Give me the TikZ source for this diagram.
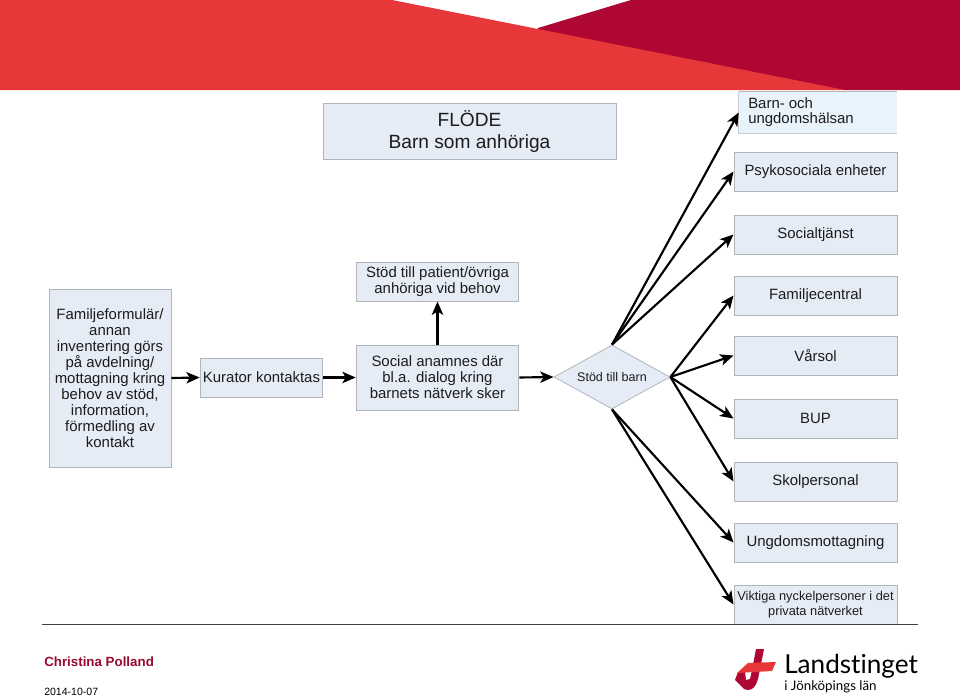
\documentclass[tikz,border=0pt]{standalone}
\usepackage{fontspec}
\setmainfont{Liberation Sans}
\newfontfamily\logofont[Ligatures=CommonOff]{Lato}
\usetikzlibrary{arrows.meta,shapes.geometric}
\definecolor{boxfill}{HTML}{E6ECF6}
\definecolor{boxline}{HTML}{B0B5BC}
\definecolor{lightfill}{HTML}{E9F3FC}
\definecolor{headred}{HTML}{E73739}
\definecolor{headdark}{HTML}{AE0733}
\definecolor{namered}{HTML}{960A2E}
\definecolor{boxtext}{HTML}{1C1C1C}
\tikzset{
  flowbox/.style={draw=boxline, fill=boxfill, text=boxtext, line width=0.7pt, inner sep=0pt, align=center, font=\fontsize{11.2}{12}\selectfont},
  flowarrow/.style={-{Stealth[length=10pt,width=8.5pt,inset=2.5pt]}, line width=1.6pt, black}
}
\begin{document}
\begin{tikzpicture}[x=0.75pt, y=-0.75pt]
\useasboundingbox (0,0) rectangle (960,696);
% header
\fill[headdark] (538,28) -- (631,0) -- (960,0) -- (960,90) -- (845,90) -- (830,89) -- (530,40) -- cycle;
\fill[headred] (0,0) -- (392,0) -- (845,90) -- (0,90) -- cycle;
% title
\node[flowbox, minimum width=219.75pt, minimum height=42pt, font=\fontsize{14.35}{16.5}\selectfont] (title) at (469.5,131) {FLÖDE\\Barn som anhöriga};
% left side
\node[flowbox, minimum width=91.5pt, minimum height=133.5pt] (form) at (110,378) {Familjeformulär/\\annan\\inventering görs\\på avdelning/\\mottagning kring\\behov av stöd,\\information,\\förmedling av\\kontakt};
\node[flowbox, minimum width=92pt, minimum height=29.25pt] (kurator) at (261.5,377.5) {Kurator kontaktas};
\node[flowbox, minimum width=122pt, minimum height=29.25pt] (patient) at (437.5,281.5) {Stöd till patient/övriga\\anhöriga vid behov};
\node[flowbox, minimum width=122pt, minimum height=48.75pt] (anamnes) at (437.5,377.5) {Social anamnes där\\bl.a. dialog kring\\barnets nätverk sker};
\node[diamond, shape aspect=1.8, draw=boxline, fill=boxfill, text=boxtext, line width=0.6pt, inner sep=0pt, minimum width=87pt, minimum height=48pt, font=\fontsize{9.4}{10}\selectfont] (barn) at (612,377) {Stöd till barn};
% right side
\node[fill=lightfill, minimum width=118.5pt, minimum height=30.75pt, inner sep=0pt] (bus) at (818,112.5) {};
\draw[boxline!70, line width=0.7pt] (bus.south east) -- (bus.south west) -- (bus.north west);
\draw[boxline, line width=0.8pt] (bus.north west) -- (bus.north east);
\node[anchor=west, align=left, inner sep=0pt, text=boxtext, font=\fontsize{11.2}{11.5}\selectfont] (bustext) at (748,112) {Barn- och\\ungdomshälsan};
\node[flowbox, minimum width=122.25pt, minimum height=29.25pt] (psyk) at (815.5,171.5) {Psykosociala enheter};
\node[flowbox, minimum width=122.25pt, minimum height=29.25pt] (soc) at (815.5,234.5) {Socialtjänst};
\node[flowbox, minimum width=122.25pt, minimum height=29.25pt] (fam) at (815.5,295.5) {Familjecentral};
\node[flowbox, minimum width=122.25pt, minimum height=29.25pt] (var) at (815.5,355.5) {Vårsol};
\node[flowbox, minimum width=122.25pt, minimum height=29.25pt] (bup) at (815.5,418.5) {BUP};
\node[flowbox, minimum width=122.25pt, minimum height=29.25pt] (skol) at (815.5,481.5) {Skolpersonal};
\node[flowbox, minimum width=122.25pt, minimum height=29.25pt] (ung) at (815.5,542.5) {Ungdomsmottagning};
\node[flowbox, minimum width=122.25pt, minimum height=29.25pt, font=\fontsize{9.6}{11.5}\selectfont] (vik) at (815.5,604.5) {Viktiga nyckelpersoner i det\\privata nätverket};
% arrows
\draw[flowarrow] (form.east) -- (kurator.west);
\draw[flowarrow] (kurator.east) -- (anamnes.west);
\draw[flowarrow] (anamnes.north) -- (patient.south);
\draw[flowarrow] (anamnes.east) -- (barn.west);
\draw[flowarrow] (barn.north) -- (bus.west);
\draw[flowarrow] (barn.north) -- (psyk.west);
\draw[flowarrow] (barn.north) -- (soc.west);
\draw[flowarrow] (barn.east) -- (fam.west);
\draw[flowarrow] (barn.east) -- (var.west);
\draw[flowarrow] (barn.east) -- (bup.west);
\draw[flowarrow] (barn.east) -- (skol.west);
\draw[flowarrow] (barn.south) -- (ung.west);
\draw[flowarrow] (barn.south) -- (vik.west);
% footer
\draw[black!75, line width=0.7pt] (42,624.5) -- (918,624.5);
\node[anchor=base west, inner sep=0pt, text=namered, font=\fontsize{10}{12}\selectfont\bfseries] (name) at (44,666) {Christina Polland};
\node[anchor=base west, inner sep=0pt, font=\fontsize{7.9}{9}\selectfont] (date) at (44,695) {2014-10-07};
% logo
\fill[headdark] (756,649) -- (764,649) -- (758,679) .. controls (756,686) and (753,690) .. (748,690) -- (744,689) -- (735,680) -- (738,672) -- (745,672) -- (746,680) -- (750,679) -- (752,670) -- cycle;
\fill[headred] (748,663) -- (776,662) -- (772,671) -- (737,673) -- cycle;
\node[anchor=base west, inner sep=0pt, font=\logofont\fontsize{19.6}{24}\selectfont] (logoa) at (784,673) {Landstinget};
\node[anchor=base west, inner sep=0pt, font=\logofont\fontsize{10}{13}\selectfont] (logob) at (784,690) {i Jönköpings län};
\end{tikzpicture}
\end{document}
